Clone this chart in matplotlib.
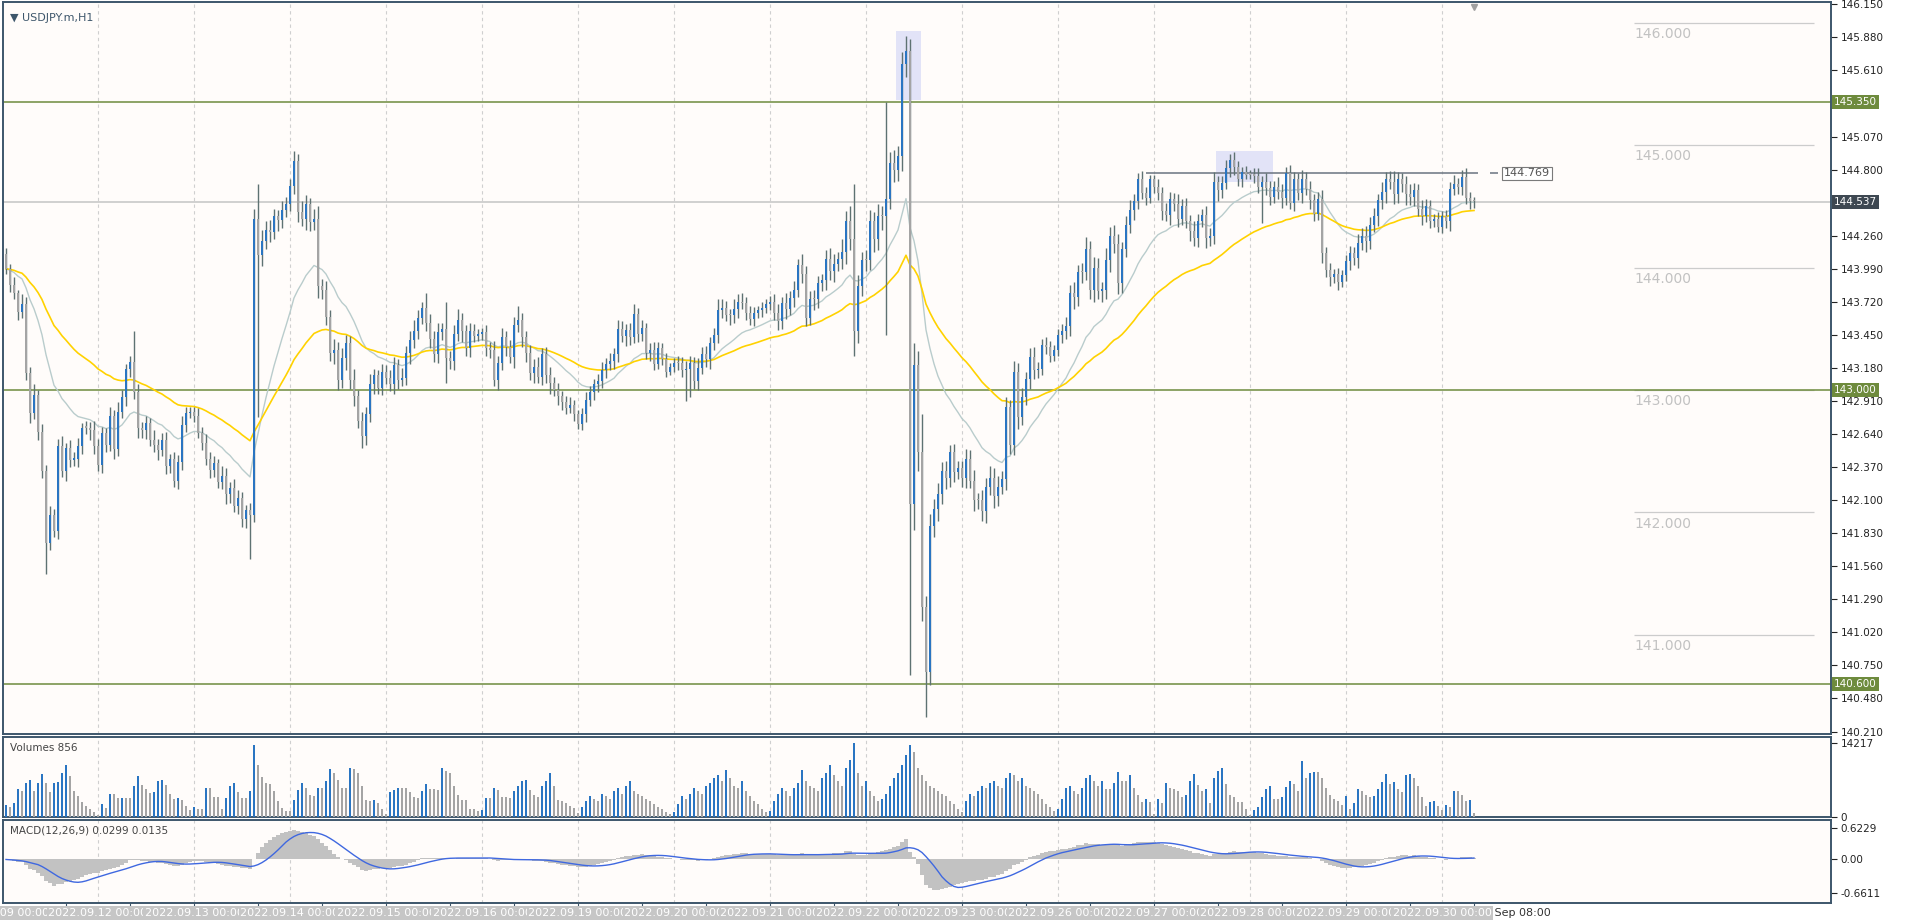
import numpy as np
import pandas as pd
import matplotlib
matplotlib.use("Agg")
import matplotlib.pyplot as plt
from matplotlib.transforms import blended_transform_factory as blend

# ---- data (USDJPY.m H1) ----
first_open = 144.11
close = [
    # Sep 09
    143.99, 143.86, 143.79, 143.64, 143.70, 143.14, 142.81, 142.96, 142.66, 142.34,
    141.75, 141.98, 141.85,
    142.54, 142.34, 142.53, 142.43, 142.44, 142.54, 142.69, 142.69, 142.67, 142.54,
    142.39, 142.65, 142.55, 142.79, 142.52, 142.82, 142.94, 143.17, 143.23, 142.98,
    142.69, 142.67, 142.73, 142.59, 142.55, 142.51, 142.59, 142.38, 142.44, 142.26,
    142.41, 142.71, 142.81, 142.82, 142.79, 142.65, 142.57, 142.44, 142.35,
    142.40, 142.25, 142.30, 142.15, 142.20, 142.05, 142.12, 141.95, 142.02, 141.98,
    144.40, 144.10, 144.22, 144.31, 144.29, 144.42, 144.39, 144.47, 144.52, 144.67,
    144.87, 144.45, 144.40, 144.52, 144.37, 144.40, 143.85, 143.82, 143.60, 143.30,
    143.33, 143.08, 143.26, 143.38, 143.08,
    142.95, 142.75, 142.62, 142.80, 143.05, 143.12, 143.02, 143.15, 143.10, 143.05,
    143.20, 143.08,
    143.10, 143.30, 143.41, 143.48, 143.59, 143.67, 143.55, 143.42, 143.29, 143.47,
    143.50, 143.26, 143.24, 143.46, 143.57, 143.48, 143.34, 143.48, 143.44, 143.46,
    143.47, 143.34, 143.33, 143.08, 143.22, 143.43, 143.35, 143.27, 143.53, 143.57,
    143.43, 143.30, 143.14, 143.19, 143.11, 143.29, 143.12, 143.06,
    143.00, 142.95, 142.90, 142.85, 142.88, 142.80, 142.72, 142.80, 142.92, 142.98,
    143.05, 143.07,
    143.16, 143.21, 143.24, 143.29, 143.50, 143.44, 143.49, 143.43, 143.62, 143.46,
    143.51, 143.30, 143.33, 143.21, 143.34, 143.25, 143.15, 143.19, 143.22, 143.22,
    143.16, 143.17, 143.22, 143.07, 143.18, 143.29, 143.25, 143.38, 143.45, 143.65,
    143.67, 143.61, 143.61, 143.66, 143.72, 143.71, 143.63, 143.58, 143.63, 143.65,
    143.67, 143.70, 143.72, 143.63, 143.56, 143.71, 143.66, 143.75, 143.82, 144.02,
    143.95, 143.59, 143.74, 143.74, 143.87, 143.90, 144.07, 143.97, 144.03, 144.07,
    144.13, 144.38, 144.23, 143.48, 143.85, 144.06, 144.06, 144.38, 144.23, 144.42,
    144.42, 144.56, 144.85, 144.80, 144.91, 145.66, 145.77, 142.07, 143.20, 142.49,
    141.23, 140.70, 141.89, 142.03, 142.15, 142.34, 142.28, 142.49, 142.33, 142.36,
    142.28, 142.44, 142.26, 142.10, 142.10, 142.01, 142.21, 142.28, 142.13, 142.21,
    142.27, 142.86, 142.55, 143.15, 142.78, 142.94, 143.09, 143.27, 143.16, 143.17,
    143.37, 143.35, 143.28, 143.33, 143.45, 143.48, 143.52, 143.79, 143.76, 143.96,
    143.96, 144.15, 143.82, 144.00, 143.81, 143.82, 144.06, 144.26, 144.19, 143.87,
    144.15, 144.35, 144.47, 144.54, 144.72, 144.61, 144.57, 144.72, 144.66, 144.61,
    144.46, 144.43, 144.56,
    144.52, 144.40, 144.50, 144.38, 144.30, 144.24, 144.38, 144.43, 144.24, 144.26,
    144.70, 144.63, 144.69, 144.81, 144.88, 144.82, 144.72, 144.78, 144.76, 144.76,
    144.75, 144.66, 144.70, 144.65, 144.58, 144.66, 144.62, 144.57, 144.77, 144.53,
    144.72, 144.61, 144.72, 144.64, 144.55, 144.44, 144.56, 144.12, 143.98, 143.92,
    143.95, 143.88, 143.94, 144.05, 144.12, 144.08, 144.20, 144.26, 144.22, 144.35,
    144.42, 144.55, 144.62, 144.72, 144.70, 144.60, 144.72, 144.68, 144.60, 144.58,
    144.63, 144.48, 144.42, 144.50, 144.38, 144.40, 144.33, 144.42, 144.38, 144.64,
    144.68, 144.66, 144.74, 144.57, 144.54, 144.54,
]

# wick lengths in pips (0.01) above / below the body
up_wick = [
    5, 4, 6, 3, 8, 6, 5, 9, 4, 6, 5, 7, 5, 6, 8, 4, 6, 5, 7, 4, 6, 5, 8,
    6, 5, 4, 7, 5, 8, 6, 4, 5, 25, 7, 5, 6, 4, 8, 5, 6, 7, 4, 5, 6, 8, 5, 4,
    4, 6, 5, 7, 5, 6, 4, 8, 6, 5, 7, 6, 5, 4, 6, 8, 28, 9, 7, 8, 6, 5, 7, 6,
    5, 8, 6, 9, 7, 5, 8, 10, 6, 7, 5, 9, 6, 8, 7, 6, 9, 5, 7, 6, 8, 5, 4, 6,
    5, 6, 7, 5, 8, 6, 7, 9, 6, 5, 12, 7, 6, 8, 5, 22, 6, 7, 9, 6, 5, 7, 6, 4,
    4, 6, 5, 7, 6, 8, 5, 6, 7, 12, 6, 5, 7, 6, 8, 5, 6, 7, 5, 6, 4, 5, 6, 4,
    4, 5, 6, 5, 4, 6, 7, 5, 6, 5, 7, 6, 5, 6, 8, 5, 6, 4, 5, 6, 5, 4, 5, 3,
    4, 6, 5, 7, 6, 5, 8, 6, 7, 5, 6, 9, 7, 6, 5, 8, 6, 7, 5, 6, 5, 4, 5, 4,
    5, 6, 7, 5, 8, 6, 7, 5, 9, 6, 7, 8, 6, 5, 7, 9, 8, 6, 10, 8, 12, 45, 9, 7,
    8, 9, 7, 10, 8, 79, 9, 11, 8, 10, 12, 10, 18, 12, 31, 9, 10, 8, 9, 7, 8, 6, 7, 6,
    6, 8, 7, 9, 6, 8, 7, 10, 8, 9, 7, 8, 6, 9, 7, 8, 6, 7, 8, 6, 5, 6, 5, 4,
    5, 6, 8, 7, 9, 6, 8, 10, 7, 9, 8, 6, 10, 7, 9, 8, 6, 7, 8, 6, 5, 7, 5, 4,
    4, 6, 5, 7, 6, 5, 8, 6, 7, 5, 8, 6, 5, 7, 6, 8, 5, 6, 7, 5, 6, 5, 4, 5,
    4, 5, 6, 5, 7, 6, 5, 8, 6, 5, 7, 6, 5, 8, 6, 7, 5, 6, 7, 5, 6, 4, 5, 4,
    5, 6, 5, 7, 6, 8, 6, 7, 5, 8, 6, 7, 9, 6, 5, 7, 8, 6, 5, 7, 6, 5, 4, 5,
    4, 5, 6, 8, 5, 6, 7, 5, 4,
]
dn_wick = [
    4, 6, 5, 7, 5, 6, 8, 5, 7, 6, 25, 6, 5, 7, 5, 8, 6, 5, 7, 6, 5, 8, 6,
    5, 7, 6, 5, 8, 6, 5, 7, 6, 5, 8, 6, 7, 5, 6, 8, 5, 7, 6, 5, 7, 6, 5, 4,
    5, 4, 6, 5, 7, 6, 5, 6, 8, 7, 5, 6, 7, 8, 36, 6, 132, 9, 7, 8, 6, 9, 7, 6,
    6, 7, 8, 6, 9, 7, 6, 10, 8, 7, 6, 9, 8, 6, 10, 7, 8, 6, 9, 7, 6, 8, 5, 6,
    5, 6, 8, 7, 5, 6, 9, 7, 6, 5, 7, 8, 6, 7, 6, 20, 7, 8, 6, 9, 6, 7, 5, 4,
    5, 6, 7, 5, 8, 6, 7, 5, 9, 6, 8, 7, 6, 8, 5, 7, 6, 9, 5, 7, 6, 5, 4, 5,
    4, 5, 6, 5, 6, 7, 5, 6, 5, 7, 6, 5, 8, 6, 5, 7, 6, 5, 6, 5, 4, 5, 4, 3,
    4, 6, 5, 25, 23, 6, 7, 5, 6, 8, 5, 7, 6, 5, 8, 6, 7, 5, 6, 5, 6, 4, 5, 4,
    5, 6, 7, 6, 8, 5, 7, 6, 8, 7, 6, 9, 7, 6, 8, 7, 9, 6, 8, 10, 9, 20, 10, 8,
    9, 8, 10, 9, 11, 97, 8, 10, 9, 12, 10, 140, 21, 15, 12, 37, 11, 9, 10, 8, 9, 7, 8, 6,
    7, 8, 6, 9, 7, 8, 10, 7, 9, 8, 6, 9, 7, 8, 10, 7, 6, 8, 7, 6, 5, 6, 5, 4,
    5, 7, 6, 8, 10, 7, 9, 6, 8, 10, 7, 9, 8, 10, 7, 9, 8, 6, 7, 8, 6, 5, 6, 4,
    5, 6, 7, 5, 8, 6, 7, 5, 6, 8, 6, 7, 5, 8, 6, 7, 9, 6, 5, 7, 6, 5, 6, 4,
    4, 6, 5, 30, 6, 7, 5, 6, 8, 6, 5, 7, 6, 8, 5, 7, 6, 5, 8, 6, 7, 5, 6, 4,
    5, 7, 6, 8, 6, 9, 7, 6, 8, 7, 9, 6, 8, 7, 6, 9, 7, 8, 6, 7, 5, 6, 5, 4,
    5, 6, 8, 5, 6, 7, 5, 6, 5,
]

# tick volume in hundreds
volume = [
    24, 20, 26, 54, 50, 66, 71, 50, 65, 82, 65, 48, 65, 68, 84, 100, 79, 51, 41, 28, 21, 15, 9,
    4, 25, 18, 44, 44, 36, 37, 37, 37, 59, 78, 62, 54, 46, 48, 69, 71, 62, 44, 35, 36, 33, 22, 13,
    20, 15, 15, 55, 55, 38, 38, 15, 36, 59, 66, 48, 37, 36, 50, 138, 100, 77, 65, 63, 51, 31, 18, 12,
    12, 33, 52, 66, 56, 42, 41, 56, 56, 70, 92, 85, 72, 56, 55, 94, 92, 84, 60, 33, 31, 33, 26, 16,
    6, 48, 52, 56, 56, 55, 48, 38, 37, 51, 63, 54, 54, 52, 94, 89, 84, 60, 42, 33, 33, 16, 16, 12,
    13, 37, 37, 55, 52, 38, 38, 36, 50, 59, 69, 71, 52, 42, 38, 59, 69, 85, 60, 33, 30, 26, 22, 18,
    8, 20, 30, 40, 35, 30, 45, 40, 35, 50, 55, 45, 60, 70, 50, 45, 40, 35, 30, 25, 20, 15, 10, 6,
    10, 25, 40, 35, 45, 55, 50, 45, 60, 65, 75, 80, 70, 90, 75, 60, 55, 70, 50, 40, 30, 25, 15, 10,
    12, 30, 45, 55, 50, 40, 55, 65, 90, 70, 60, 55, 50, 75, 85, 100, 80, 70, 60, 95, 110, 142, 85, 60,
    70, 50, 40, 30, 35, 45, 60, 75, 85, 100, 120, 138, 125, 95, 80, 70, 60, 55, 50, 45, 40, 30, 25, 15,
    10, 30, 45, 40, 50, 60, 55, 65, 70, 60, 55, 75, 85, 80, 70, 75, 60, 55, 50, 45, 35, 25, 20, 12,
    15, 35, 55, 60, 50, 45, 55, 75, 80, 70, 60,
    69, 53, 53, 65, 87, 69, 69, 81, 55, 43, 28, 35, 28,
    5, 34, 26, 65, 55, 53, 50, 38, 43, 69, 83, 61, 50, 53, 26, 75, 89, 94, 63, 42, 38, 28, 28, 15,
    3, 13, 20, 38, 53, 59, 34, 34, 38, 57, 69, 63, 51, 107, 76, 85, 87, 87, 75, 55, 43, 34, 30, 23,
    40, 16, 26, 53, 51, 42, 38, 40, 53, 67, 83, 64, 67, 53, 48, 80, 83, 75, 59, 38, 22, 28, 30, 22,
    13, 23, 19, 51, 50, 43, 30, 32, 8,
]

days = ["2022.09.12", "2022.09.13", "2022.09.14", "2022.09.15", "2022.09.16",
        "2022.09.19", "2022.09.20", "2022.09.21", "2022.09.22", "2022.09.23",
        "2022.09.26", "2022.09.27", "2022.09.28", "2022.09.29", "2022.09.30"]
first_day_bar = 23            # bar of 2022.09.12 00:00
green_levels = [145.350, 143.000, 140.600]
bid = 144.537
top_line = 144.769
round_levels = [146.0, 145.0, 144.0, 143.0, 142.0, 141.0]
price_ticks = [146.150, 145.880, 145.610, 145.070, 144.800, 144.260, 143.990, 143.720,
               143.450, 143.180, 142.910, 142.640, 142.370, 142.100, 141.830, 141.560,
               141.290, 141.020, 140.750, 140.480, 140.210]

# ---- derived series ----
c = np.array(close)
o = np.r_[first_open, c[:-1]]
hi = np.maximum(o, c) + np.array(up_wick) / 100
lo = np.minimum(o, c) - np.array(dn_wick) / 100
vol = np.array(volume) * 100
n = len(c)
x = np.arange(n)
s = pd.Series(c)
ma_fast = s.ewm(span=20, adjust=False).mean()
ma_slow = s.ewm(span=50, adjust=False).mean()
macd = s.ewm(span=12, adjust=False).mean() - s.ewm(span=26, adjust=False).mean()
signal = macd.rolling(9, min_periods=1).mean()

BLUE = "#2a75c2"
GREY = "#a4a4a4"
WICK = "#5e7272"
BG = "#fffcfa"
FRAME = "#3d566b"
GRID = "#cfcfcf"
LEVEL = "#6e8b3d"

W, H = 1916, 922
RIGHT = 1831
fig = plt.figure(figsize=(W / 100, H / 100), dpi=100, facecolor="white")
plt.rcParams["font.family"] = ["DejaVu Sans"]


def px_axes(x0, y0, x1, y1):
    a = fig.add_axes([x0 / W, 1 - y1 / H, (x1 - x0) / W, (y1 - y0) / H])
    a.set_facecolor(BG)
    for sp in a.spines.values():
        sp.set_color(FRAME)
        sp.set_linewidth(1.4)
    a.set_xlim(-0.75, (x1 - 6) / 4)
    a.set_xticks([])
    a.yaxis.tick_right()
    a.tick_params(axis="y", labelsize=7.5, length=4, pad=3, colors="#222222", width=0.8)
    for k in range(len(days)):
        a.axvline(first_day_bar + 24 * k, color=GRID, lw=0.8, ls=(0, (3, 3)), zorder=0)
    return a


ax = px_axes(3, 2, RIGHT, 734)
axv = px_axes(3, 737, RIGHT, 817)
axm = px_axes(3, 820, RIGHT, 903)

# ---- main panel ----
ax.set_ylim(140.19, 146.169)
ax.set_yticks(price_ticks)
ax.set_yticklabels([f"{t:.3f}" for t in price_ticks])

ax.add_patch(plt.Rectangle((222.6, 145.37), 6.2, 0.56, color="#e2e3f7", zorder=1, lw=0))
ax.add_patch(plt.Rectangle((302.6, 144.70), 14.2, 0.25, color="#e2e3f7", zorder=1, lw=0))

for lv in green_levels:
    ax.axhline(lv, color=LEVEL, lw=1.1, zorder=2)
ax.axhline(bid, color="#c4c4c4", lw=1.1, zorder=2)
ax.hlines(top_line, 285, 368, color="#6a7480", lw=1.1, zorder=2)
ax.hlines(top_line, 371, 373, color="#6a7480", lw=1.1)
ax.text(374.5, top_line, f"{top_line:.3f}", fontsize=8, color="#555555", va="center",
        bbox=dict(facecolor="white", edgecolor="#7a7a7a", pad=1.2, lw=0.8))

for lv in round_levels:
    ax.hlines(lv, 407, 452, color="#cccccc", lw=0.9, zorder=1)
    ax.annotate(f"{lv:.3f}", (407, lv), xytext=(0, -3), textcoords="offset points",
                fontsize=10, color="#c2c2c2", va="top", ha="left")

ax.plot(x, ma_fast, color="#b9cccc", lw=1.0, zorder=3)
ax.plot(x, ma_slow, color="#ffd200", lw=1.2, zorder=3)

col = np.where(c > o, BLUE, GREY)
ax.vlines(x, lo, hi, color=WICK, lw=1.0, zorder=4)
body = np.maximum(np.abs(c - o), 0.012)
ax.bar(x, body, bottom=np.minimum(o, c), width=0.7, color=col, zorder=5, lw=0)

ax.plot([367], [146.13], marker="v", color="#a0a0a0", ms=5)
ax.text(0.004, 0.985, "\u25bc USDJPY.m,H1", transform=ax.transAxes, fontsize=8,
        color="#3d566b", va="top")

tr = blend(ax.transAxes, ax.transData)
for lv in green_levels:
    ax.text(1.0015, lv, f"{lv:.3f}", transform=tr, fontsize=7.5, color="white", va="center",
            bbox=dict(facecolor=LEVEL, edgecolor="none", pad=1.5), zorder=10, clip_on=False)
ax.text(1.0015, bid, f"{bid:.3f}", transform=tr, fontsize=7.5, color="white", va="center",
        bbox=dict(facecolor="#3e4852", edgecolor="none", pad=1.5), zorder=10, clip_on=False)

# ---- volumes ----
vcol = [BLUE] + [BLUE if vol[i] > vol[i - 1] else GREY for i in range(1, n)]
axv.bar(x, vol, width=0.7, color=vcol, lw=0, zorder=3)
axv.set_ylim(0, 15400)
axv.set_yticks([0, 14217])
axv.set_yticklabels(["0", "14217"])
axv.text(0.004, 0.93, "Volumes 856", transform=axv.transAxes, fontsize=7.5, color="#444444", va="top")

# ---- MACD ----
axm.bar(x, macd, width=1.0, color="#c2c2c2", lw=0, zorder=2)
axm.plot(x, signal, color="#3f68e0", lw=1.0, zorder=3)
axm.set_ylim(-0.86, 0.78)
axm.set_yticks([0.6229, 0.0, -0.6611])
axm.set_yticklabels(["0.6229", "0.00", "-0.6611"])
axm.text(0.004, 0.93, "MACD(12,26,9) 0.0299 0.0135", transform=axm.transAxes, fontsize=7.5,
         color="#444444", va="top")

# ---- time axis ----
def bar_time(i):
    if i < first_day_bar:
        return "9 Sep", i + 1
    d = days[(i - first_day_bar) // 24]
    return f"{int(d[-2:])} Sep", (i - first_day_bar) % 24


ticks = list(range(15, n, 16))
axm.set_xticks(ticks)
axm.tick_params(axis="x", length=4, color=FRAME, labelbottom=False)
tb = blend(axm.transData, axm.transAxes)
for i in ticks:
    d, hr = bar_time(i)
    axm.text(i + 0.8, -0.06, f"{d} {hr:02d}:00", transform=tb, fontsize=8, color="#333333",
             va="top", ha="left", clip_on=False, zorder=5)
box_x = [-1.5] + [first_day_bar + 24 * k for k in range(len(days))]
box_lbl = ["2022.09.09 00:00"] + [d + " 00:00" for d in days]
for bx, lb in zip(box_x, box_lbl):
    axm.text(bx, -0.06, lb, transform=tb, fontsize=8, color="white", va="top", ha="center",
             clip_on=False, zorder=6,
             bbox=dict(facecolor="#c6c6c6", edgecolor="none", pad=1.3))

fig.savefig("out.png", dpi=100, facecolor="white")
